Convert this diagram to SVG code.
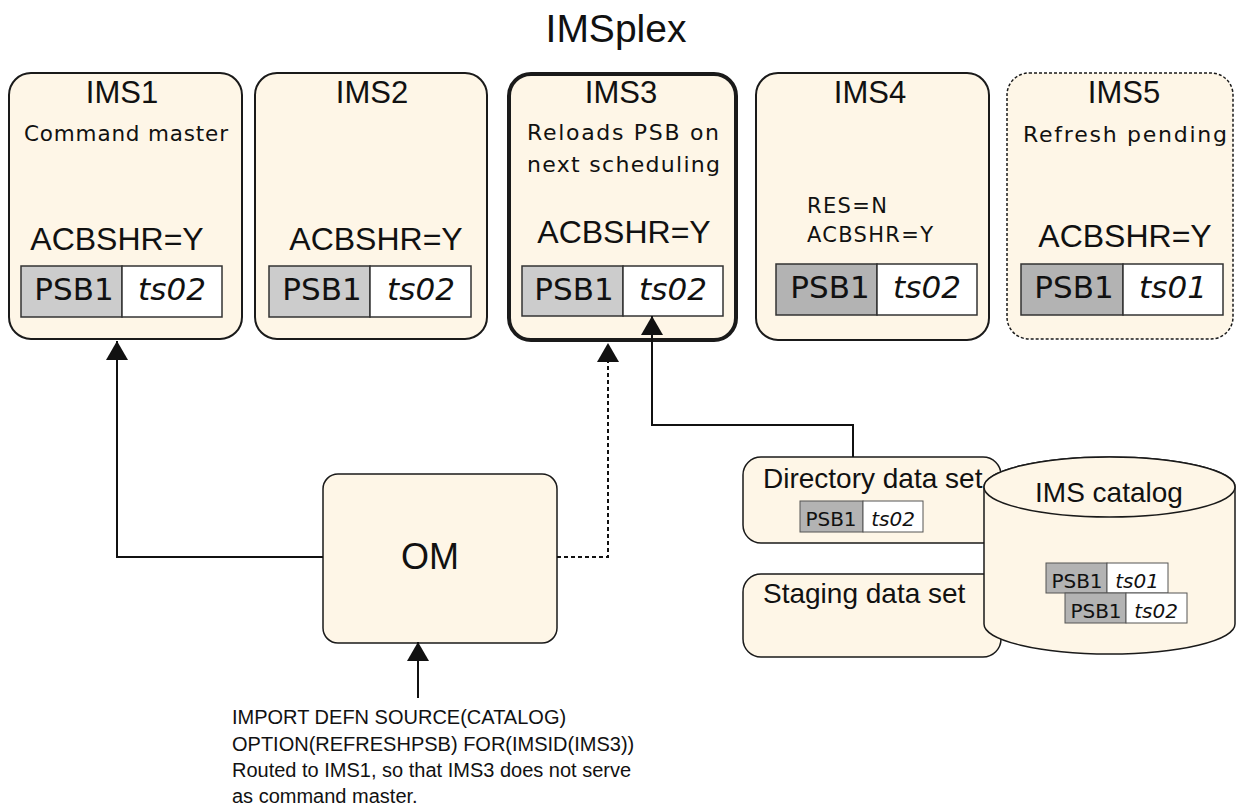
<svg xmlns="http://www.w3.org/2000/svg" width="1241" height="812" viewBox="0 0 1241 812">
<style>
.box{fill:#fef6e7;stroke:#1a1a1a;stroke-width:2}
.thick{stroke-width:4}
.dash{stroke-dasharray:3 2;stroke-width:1.5}
.h{font-family:"Liberation Sans",Arial,sans-serif;fill:#111}
.d{font-family:"DejaVu Sans",sans-serif;fill:#111}
.it{font-style:italic}
.lg{fill:#cccccc;stroke:#333;stroke-width:1.5}
.dg{fill:#b3b3b3;stroke:#333;stroke-width:1.5}
.wc{fill:#ffffff;stroke:#333;stroke-width:1.5}
.sg{fill:#b3b3b3;stroke:#555;stroke-width:1}
.sw{fill:#ffffff;stroke:#555;stroke-width:1}
.ln{fill:none;stroke:#111;stroke-width:2}
.dl{stroke-dasharray:4 3}
</style>
<defs>
<marker id="ah" markerUnits="userSpaceOnUse" markerWidth="20" markerHeight="22" refX="19" refY="11" orient="auto">
<path d="M0,0 L19,11 L0,22 Z" fill="#111"/>
</marker>
</defs>

<text class="h" x="616" y="42" font-size="39" text-anchor="middle">IMSplex</text>

<g id="ims1">
<rect class="box" x="9" y="73" width="233" height="266" rx="22"/>
<text class="h" x="122" y="103" font-size="31" text-anchor="middle">IMS1</text>
<text class="d" x="24" y="141" font-size="21.5" textLength="204" lengthAdjust="spacing">Command master</text>
<text class="h" x="117" y="250" font-size="32" text-anchor="middle">ACBSHR=Y</text>
<rect class="lg" x="21" y="266" width="101" height="51"/>
<rect class="wc" x="122" y="266" width="100" height="51"/>
<text class="d" x="74" y="300" font-size="31" text-anchor="middle">PSB1</text>
<text class="d it" x="172" y="300" font-size="31" text-anchor="middle">ts02</text>
</g>

<g id="ims2">
<rect class="box" x="255" y="73" width="232" height="266" rx="22"/>
<text class="h" x="372" y="103" font-size="31" text-anchor="middle">IMS2</text>
<text class="h" x="376" y="250" font-size="32" text-anchor="middle">ACBSHR=Y</text>
<rect class="lg" x="269" y="266" width="101" height="51"/>
<rect class="wc" x="370" y="266" width="101" height="51"/>
<text class="d" x="322" y="300" font-size="31" text-anchor="middle">PSB1</text>
<text class="d it" x="421" y="300" font-size="31" text-anchor="middle">ts02</text>
</g>

<g id="ims3">
<rect class="box thick" x="509" y="74" width="227" height="266" rx="22"/>
<text class="h" x="621" y="103" font-size="31" text-anchor="middle">IMS3</text>
<text class="d" x="527" y="140" font-size="22" textLength="192" lengthAdjust="spacing">Reloads PSB on</text>
<text class="d" x="527" y="172" font-size="22" textLength="193" lengthAdjust="spacing">next scheduling</text>
<text class="h" x="624" y="243" font-size="32" text-anchor="middle">ACBSHR=Y</text>
<rect class="lg" x="522" y="266" width="101" height="50"/>
<rect class="wc" x="623" y="266" width="100" height="50"/>
<text class="d" x="574" y="300" font-size="31" text-anchor="middle">PSB1</text>
<text class="d it" x="673" y="300" font-size="31" text-anchor="middle">ts02</text>
</g>

<g id="ims4">
<rect class="box" x="756" y="73" width="233" height="267" rx="22"/>
<text class="h" x="870" y="103" font-size="31" text-anchor="middle">IMS4</text>
<text class="d" x="807" y="213" font-size="21" textLength="80" lengthAdjust="spacing">RES=N</text>
<text class="d" x="807" y="242" font-size="21" textLength="126" lengthAdjust="spacing">ACBSHR=Y</text>
<rect class="dg" x="776" y="264" width="101" height="51"/>
<rect class="wc" x="877" y="264" width="100" height="51"/>
<text class="d" x="830" y="298" font-size="31" text-anchor="middle">PSB1</text>
<text class="d it" x="927" y="298" font-size="31" text-anchor="middle">ts02</text>
</g>

<g id="ims5">
<rect class="box dash" x="1007" y="73" width="226" height="266" rx="22"/>
<text class="h" x="1124" y="103" font-size="31" text-anchor="middle">IMS5</text>
<text class="d" x="1023" y="142" font-size="22" textLength="204" lengthAdjust="spacing">Refresh pending</text>
<text class="h" x="1125" y="247" font-size="32" text-anchor="middle">ACBSHR=Y</text>
<rect class="dg" x="1021" y="264" width="102" height="51"/>
<rect class="wc" x="1123" y="264" width="100" height="51"/>
<text class="d" x="1074" y="298" font-size="31" text-anchor="middle">PSB1</text>
<text class="d it" x="1173" y="298" font-size="31" text-anchor="middle">ts01</text>
</g>

<g id="om">
<rect class="box" x="323" y="474" width="234" height="169" rx="15" style="stroke-width:1.5"/>
<text class="h" x="430" y="569" font-size="36" text-anchor="middle">OM</text>
</g>

<g id="directory">
<rect class="box" x="743" y="457" width="258" height="86" rx="18" style="stroke-width:1.5"/>
<text class="h" x="763" y="488" font-size="28">Directory data set</text>
<rect class="sg" x="800" y="501" width="63" height="31"/>
<rect class="sw" x="863" y="501" width="60" height="31"/>
<text class="d" x="831" y="526" font-size="20" text-anchor="middle">PSB1</text>
<text class="d it" x="893" y="526" font-size="20" text-anchor="middle">ts02</text>
</g>

<g id="staging">
<rect class="box" x="743" y="574" width="258" height="83" rx="18" style="stroke-width:1.5"/>
<text class="h" x="763" y="603" font-size="28">Staging data set</text>
</g>

<g id="catalog">
<path class="box" style="stroke-width:1.5" d="M984,487 L984,624 A125.5,30 0 0 0 1235,624 L1235,487 A125.5,30 0 0 0 984,487 Z"/>
<ellipse class="box" style="stroke-width:1.5" cx="1109.5" cy="487" rx="125.5" ry="30"/>
<text class="h" x="1109" y="502" font-size="28" text-anchor="middle">IMS catalog</text>
<rect class="sg" x="1046" y="563" width="61" height="30"/>
<rect class="sw" x="1107" y="563" width="61" height="30"/>
<text class="d" x="1077" y="588" font-size="20" text-anchor="middle">PSB1</text>
<text class="d it" x="1137" y="588" font-size="20" text-anchor="middle">ts01</text>
<rect class="sg" x="1065" y="593" width="61" height="30"/>
<rect class="sw" x="1126" y="593" width="61" height="30"/>
<text class="d" x="1096" y="618" font-size="20" text-anchor="middle">PSB1</text>
<text class="d it" x="1156" y="618" font-size="20" text-anchor="middle">ts02</text>
</g>

<g id="connectors">
<path class="ln" d="M323,557 L117,557 L117,341" marker-end="url(#ah)"/>
<path class="ln dl" d="M557,557 L608,557 L608,343" marker-end="url(#ah)"/>
<path class="ln" d="M853,457 L853,425 L652,425 L652,316" marker-end="url(#ah)"/>
<path class="ln" d="M418,698 L418,642" marker-end="url(#ah)"/>
</g>

<g id="command-note">
<text class="h" x="232" y="724" font-size="20">IMPORT DEFN SOURCE(CATALOG)</text>
<text class="h" x="232" y="751" font-size="20">OPTION(REFRESHPSB) FOR(IMSID(IMS3))</text>
<text class="h" x="232" y="777" font-size="20">Routed to IMS1, so that IMS3 does not serve</text>
<text class="h" x="232" y="803" font-size="20">as command master.</text>
</g>
</svg>
